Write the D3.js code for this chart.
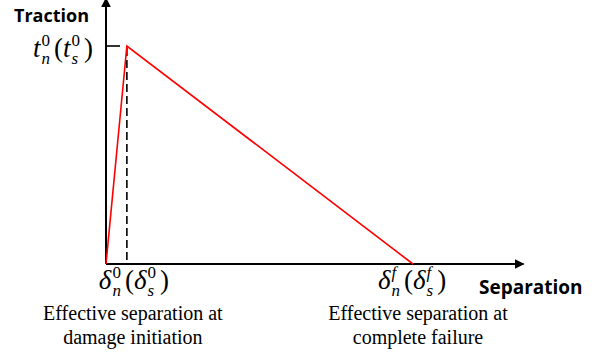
<!DOCTYPE html>
<html>
<head>
<meta charset="utf-8">
<script src="https://cdn.jsdelivr.net/npm/d3@7"></script>
<style>
  body { margin: 0; background: #fff; }
</style>
</head>
<body>
<div id="chart"></div>
<script>
// traction-separation law (normalised)
var separation = [0, 0.068, 1];
var traction = [0, 1, 0];
var xMax = 1.36;
var yMax = 1.2;

// tick labels: [symbol, superscript]
var xTickLabels = [['δ', '0'], ['δ', 'f']];
var yTickLabels = [['t', '0']];
var xNotes = [
  ['Effective separation at', 'damage initiation'],
  ['Effective separation at', 'complete failure']
];

var chartWidth = 597;
var chartHeight = 354;
var svg = d3.select('#chart')
    .append('svg')
    .attr('width', chartWidth)
    .attr('height', chartHeight);

var scaleX = d3.scaleLinear()
    .domain([0, 1])
    .range([106, 413]);

var scaleY = d3.scaleLinear()
    .domain([0, 1])
    .range([264, 46]);

// arrow markers
var defs = svg.append('defs');
defs.append('marker')
    .attr('id', 'arrow')
    .attr('viewBox', '0 0 10 10')
    .attr('refX', 9)
    .attr('refY', 5)
    .attr('markerWidth', 10)
    .attr('markerHeight', 10)
    .attr('markerUnits', 'userSpaceOnUse')
    .attr('orient', 'auto')
    .append('path')
    .attr('d', 'M0,0 L10,5 L0,10 Z')
    .attr('fill', '#000');

// axes
svg.append('line')
    .attr('x1', scaleX(0)).attr('y1', scaleY(0))
    .attr('x2', scaleX(xMax)).attr('y2', scaleY(0))
    .attr('stroke', '#000').attr('stroke-width', 2)
    .attr('marker-end', 'url(#arrow)');
svg.append('line')
    .attr('x1', scaleX(0)).attr('y1', scaleY(0))
    .attr('x2', scaleX(0)).attr('y2', scaleY(yMax) - 4)
    .attr('stroke', '#000').attr('stroke-width', 2)
    .attr('marker-end', 'url(#arrow)');

// peak tick and dashed guide
svg.append('line')
    .attr('x1', scaleX(0)).attr('y1', scaleY(1))
    .attr('x2', scaleX(0) + 14).attr('y2', scaleY(1))
    .attr('stroke', '#000').attr('stroke-width', 1.6);
svg.append('line')
    .attr('x1', scaleX(separation[1])).attr('y1', scaleY(1))
    .attr('x2', scaleX(separation[1])).attr('y2', scaleY(0))
    .attr('stroke', '#000').attr('stroke-width', 1.6)
    .attr('stroke-dasharray', '8,4')
    .attr('stroke-dashoffset', -14);

// traction-separation curve
var line = d3.line()
    .x(function(d, i) { return scaleX(separation[i]); })
    .y(function(d) { return scaleY(d); });
svg.append('path')
    .datum(traction)
    .attr('d', line)
    .attr('fill', 'none')
    .attr('stroke', '#ff0000')
    .attr('stroke-width', 1.6);

// math label: sym_n^sup(sym_s^sup)
function mathLabel(x, y, anchor, parts) {
  var t = svg.append('text')
      .attr('x', x).attr('y', y)
      .attr('font-family', 'Liberation Serif, serif')
      .attr('font-size', 27)
      .attr('text-anchor', anchor);
  function term(sym, sub, sup) {
    t.append('tspan').attr('font-style', 'italic').text(sym);
    var s = t.append('tspan').attr('font-style', 'italic')
        .attr('font-size', 17).attr('dy', 7).attr('dx', 1).text(sub);
    var w = s.node().getComputedTextLength();
    var p = t.append('tspan').attr('font-size', 17)
        .attr('font-style', sup === 'f' ? 'italic' : 'normal')
        .attr('dx', -w).attr('dy', -18).text(sup);
    var w2 = p.node().getComputedTextLength();
    return Math.max(0, w - w2);
  }
  var r = term(parts[0], 'n', parts[1]);
  t.append('tspan').attr('dy', 11).attr('dx', r + 4).text('(');
  r = term(parts[0], 's', parts[1]);
  t.append('tspan').attr('dy', 11).attr('dx', r + 4).text(')');
  return t;
}

mathLabel(93, 57, 'end', yTickLabels[0]);
var labelShift = [7, -1];
xTickLabels.forEach(function(d, i) {
  mathLabel(scaleX(separation[i + 1]) + labelShift[i], 289, 'middle', d);
});

// notes below x ticks
var noteShift = [6, 5];
xNotes.forEach(function(d, i) {
  var cx = scaleX(separation[i + 1]) + noteShift[i];
  svg.append('text')
      .attr('x', cx)
      .attr('y', 320)
      .attr('font-family', 'Liberation Serif, serif')
      .attr('font-size', 20)
      .attr('text-anchor', 'middle')
      .selectAll('tspan')
      .data(d)
      .enter()
      .append('tspan')
      .attr('x', cx)
      .attr('dy', function(e, j) { return j ? 24 : 0; })
      .text(function(e) { return e; });
});

// axis titles
svg.append('text')
    .attr('x', 14).attr('y', 22)
    .attr('font-family', 'Open Sans, sans-serif')
    .attr('font-weight', 'bold')
    .attr('font-size', 18)
    .text('Traction');
svg.append('text')
    .attr('x', 479).attr('y', 294)
    .attr('font-family', 'Open Sans, sans-serif')
    .attr('font-weight', 'bold')
    .attr('font-size', 19)
    .text('Separation');
</script>
</body>
</html>
